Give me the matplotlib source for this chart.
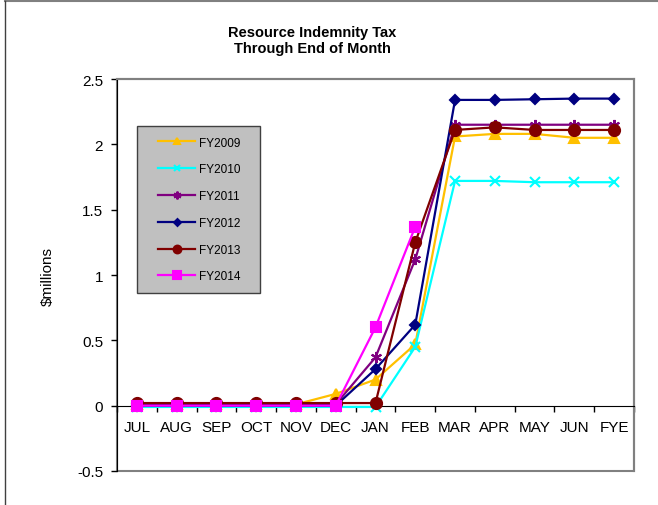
import numpy as np
import matplotlib.pyplot as plt
from matplotlib.patches import Rectangle
from matplotlib.legend_handler import HandlerLine2D

plt.rcParams['font.family'] = ['Liberation Sans', 'DejaVu Sans']

months = ['JUL', 'AUG', 'SEP', 'OCT', 'NOV', 'DEC', 'JAN', 'FEB', 'MAR', 'APR', 'MAY', 'JUN', 'FYE']

fy2009 = [0.01, 0.01, 0.01, 0.01, 0.01, 0.09, 0.20, 0.47, 2.06, 2.08, 2.08, 2.05, 2.05]
fy2010 = [-0.01, -0.01, -0.01, -0.01, -0.01, -0.01, -0.01, 0.45, 1.72, 1.72, 1.71, 1.71, 1.71]
fy2011 = [0.01, 0.01, 0.01, 0.01, 0.01, 0.01, 0.37, 1.12, 2.15, 2.15, 2.15, 2.15, 2.15]
fy2012 = [0.0, 0.0, 0.0, 0.0, 0.0, 0.0, 0.28, 0.62, 2.34, 2.34, 2.345, 2.35, 2.35]
fy2013 = [0.02, 0.02, 0.02, 0.02, 0.02, 0.02, 0.02, 1.25, 2.11, 2.13, 2.11, 2.11, 2.11]
fy2014 = [0.0, 0.0, 0.0, 0.0, 0.0, 0.0, 0.60, 1.37]

series = [
    ('FY2009', fy2009, '#FFC000', '^', 7),
    ('FY2010', fy2010, '#00FFFF', 'x', 7),
    ('FY2011', fy2011, '#800080', (6, 2, 0), 8),
    ('FY2012', fy2012, '#000080', 'D', 5),
    ('FY2013', fy2013, '#800000', 'o', 8),
    ('FY2014', fy2014, '#FF00FF', 's', 7.5),
]

fig = plt.figure(figsize=(6.58, 5.06), dpi=100)
ax = fig.add_axes([117/658, 34/506, 517/658, 392/506])

x = np.arange(len(months))
for name, vals, col, mk, ms in series:
    ax.plot(x[:len(vals)], vals, color=col, marker=mk, markersize=ms, lw=1.6,
            mew=1.5, label=name, clip_on=False, zorder=3)

ax.set_xlim(-0.5, 12.5)
ax.set_ylim(-0.5, 2.5)
ax.set_yticks([-0.5, 0, 0.5, 1, 1.5, 2, 2.5])
ax.set_yticklabels(['-0.5', '0', '0.5', '1', '1.5', '2', '2.5'], fontsize=11)
ax.tick_params(axis='y', direction='out', length=4, width=1, pad=6)

# category axis sits at y = 0
ax.spines['bottom'].set_position(('data', 0))
ax.spines['bottom'].set_color('black')
ax.spines['left'].set_color('black')
ax.spines['top'].set_color('#808080')
ax.spines['right'].set_color('#808080')
ax.spines['top'].set_linewidth(1.5)
ax.spines['right'].set_linewidth(1.5)
ax.add_patch(Rectangle((0, 0), 1, 1, transform=ax.transAxes, fill=False,
                       edgecolor='#808080', lw=1.5, clip_on=False, zorder=0))
ax.set_xticks(x)
ax.set_xticklabels(months, fontsize=11)
ax.set_xticks(np.arange(-0.5, 13, 1), minor=True)
ax.tick_params(axis='x', which='major', length=0, pad=10)
ax.tick_params(axis='x', which='minor', direction='out', length=4, width=1)

ax.set_ylabel('$millions', fontsize=11, labelpad=16)
fig.text(312/658, 1 - 41/506, 'Resource Indemnity Tax\nThrough End of Month',
         ha='center', va='center', fontsize=10.5, fontweight='bold', linespacing=1.15)

leg = ax.legend(loc='upper left', bbox_to_anchor=(20/517, 1 - 47/392 - 0.3, 123/517, 0.3),
                mode='expand',
                fontsize=8.5, frameon=True, fancybox=False, labelspacing=1.25,
                handlelength=4.0, handletextpad=0.35, borderpad=0.9,
                borderaxespad=0, markerscale=0.7,
                handler_map={plt.Line2D: HandlerLine2D(xpad=0.9)})
leg.get_frame().set_facecolor('#C0C0C0')
leg.get_frame().set_edgecolor('#404040')
leg.get_frame().set_alpha(1)
leg.get_frame().set_linewidth(1)

# chart area border (top and left)
fig.add_artist(plt.Line2D([5/658, 1], [1 - 2/506, 1 - 2/506], color='#808080', lw=1.5))
fig.add_artist(plt.Line2D([5/658, 5/658], [0, 1 - 2/506], color='#404040', lw=1))

fig.savefig('out.png', dpi=100)
